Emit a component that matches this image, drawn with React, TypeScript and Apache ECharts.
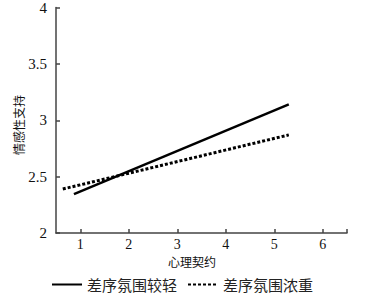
import React, { useEffect, useRef } from "react";
import * as echarts from "echarts";

const xTicks = [1, 2, 3, 4, 5, 6];
const yTicks = [2, 2.5, 3, 3.5, 4];
const seriesNames = ["差序氛围较轻", "差序氛围浓重"];
const lightX = [0.87, 5.3];
const lightY = [2.345, 3.14];
const heavyX = [0.64, 5.3];
const heavyY = [2.39, 2.87];
const xName = "心理契约";
const yName = "情感性支持";

const NUM_FONT = "'Liberation Serif', 'Times New Roman', serif";
const CJK_FONT = "'Noto Sans CJK SC', sans-serif";

export default function App() {
  const ref = useRef<HTMLDivElement>(null);
  useEffect(() => {
    if (!ref.current) return;
    const chart = echarts.init(ref.current, null, { renderer: "svg" });
    chart.setOption({
      animation: false,
      grid: { left: 56, right: 37, top: 7, bottom: 63, containLabel: false },
      legend: {
        left: 46,
        top: 272,
        itemWidth: 30,
        itemHeight: 14,
        itemGap: 10,
        itemStyle: { opacity: 0 },
        textStyle: { fontFamily: CJK_FONT, fontSize: 15, color: "#222" },
        data: seriesNames,
      },
      graphic: [
        {
          type: "text",
          x: 18,
          y: 125,
          rotation: Math.PI / 2,
          style: {
            text: yName,
            fontFamily: CJK_FONT,
            fontSize: 12,
            fill: "#111",
            align: "center",
            verticalAlign: "middle",
          },
        },
      ],
      xAxis: {
        type: "value",
        min: 0.5,
        max: 6.5,
        name: xName,
        nameLocation: "middle",
        nameGap: 22,
        nameMoveOverlap: false,
        nameTextStyle: { fontFamily: CJK_FONT, fontSize: 12, color: "#111", padding: [0, 19, 0, 0] },
        axisLine: { show: true, lineStyle: { color: "#444", width: 1.5 } },
        axisTick: { show: true, inside: true, length: 4, customValues: [...xTicks, 6.5], lineStyle: { color: "#444", width: 1.5 } },
        axisLabel: { customValues: xTicks, fontFamily: NUM_FONT, fontSize: 14, color: "#111", margin: 4 },
        splitLine: { show: false },
      },
      yAxis: {
        type: "value",
        min: yTicks[0],
        max: yTicks[yTicks.length - 1],
        interval: 0.5,
        axisLine: { show: true, lineStyle: { color: "#444", width: 1.5 } },
        axisTick: { show: true, inside: true, length: 4, lineStyle: { color: "#444", width: 1.5 } },
        axisLabel: { fontFamily: NUM_FONT, fontSize: 15, color: "#111", margin: 9 },
        splitLine: { show: false },
      },
      series: [
        {
          name: seriesNames[0],
          type: "line",
          symbol: "none",
          data: lightX.map((x, i) => [x, lightY[i]]),
          lineStyle: { color: "#000", width: 2.5, type: "solid" },
          itemStyle: { color: "#000" },
        },
        {
          name: seriesNames[1],
          type: "line",
          symbol: "none",
          data: heavyX.map((x, i) => [x, heavyY[i]]),
          lineStyle: { color: "#000", width: 3, type: [3, 2] },
          itemStyle: { color: "#000" },
        },
      ],
    });
    return () => chart.dispose();
  }, []);
  return <div ref={ref} style={{ width: 384, height: 296, position: "absolute", left: 0, top: 0 }} />;
}
